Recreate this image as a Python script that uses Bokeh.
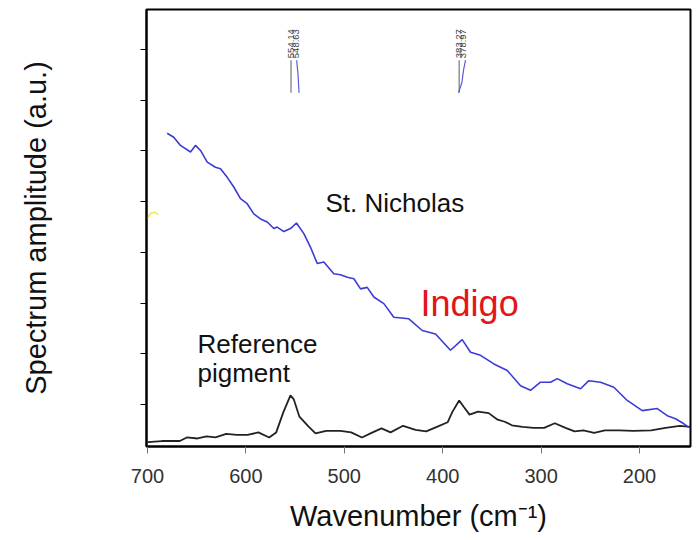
from bokeh.plotting import figure
from bokeh.models import Range1d, FixedTicker, Label
from bokeh.embed import file_html
from bokeh.resources import INLINE
import math

# St. Nicholas (blue) spectrum: wavenumber, amplitude
nich_x = [680.0, 673.3, 666.5, 656.3, 651.2, 646.1, 639.3, 631.0, 625.8, 619.0, 612.3, 605.5,
          598.7, 592.0, 585.2, 578.3, 571.6, 568.2, 561.5, 554.7, 548.6, 541.1, 534.3, 527.5,
          520.8, 510.7, 503.9, 497.0, 490.3, 483.5, 476.7, 470.0, 459.8, 449.7, 434.4, 420.8,
          407.3, 392.1, 380.2, 371.7, 361.6, 348.0, 334.4, 320.9, 310.8, 300.6, 290.4, 283.6,
          273.5, 259.9, 251.5, 239.6, 226.1, 212.5, 197.2, 182.0, 171.8, 163.4, 154.9, 149.9]
nich_y = [6.35, 6.27, 6.11, 5.98, 6.11, 6.01, 5.78, 5.68, 5.65, 5.48, 5.29, 5.06,
          4.96, 4.76, 4.66, 4.60, 4.47, 4.50, 4.41, 4.47, 4.58, 4.37, 4.10, 3.78,
          3.81, 3.58, 3.56, 3.51, 3.48, 3.28, 3.31, 3.12, 2.99, 2.72, 2.69, 2.46,
          2.39, 2.07, 2.28, 2.03, 1.97, 1.80, 1.67, 1.37, 1.28, 1.44, 1.44, 1.51,
          1.41, 1.31, 1.47, 1.44, 1.34, 1.08, 0.88, 0.92, 0.78, 0.72, 0.62, 0.55]

# Reference pigment (black) spectrum
ref_x = [699.9, 685.4, 667.2, 660.0, 649.1, 640.0, 630.9, 620.0, 609.1, 598.4, 587.3, 576.4,
         569.2, 561.9, 554.7, 551.3, 545.6, 536.5, 529.3, 518.4, 503.9, 493.0, 482.1, 471.2,
         462.2, 453.0, 440.3, 427.6, 416.8, 405.9, 395.0, 390.3, 383.3, 378.5, 372.7, 364.1,
         353.3, 344.2, 336.9, 329.7, 318.8, 307.8, 296.9, 286.1, 275.2, 266.0, 257.0, 246.1,
         235.2, 220.7, 206.2, 188.1, 173.6, 159.0, 148.2]
ref_y = [0.26, 0.28, 0.28, 0.35, 0.33, 0.37, 0.35, 0.42, 0.40, 0.40, 0.45, 0.35,
         0.45, 0.85, 1.18, 1.10, 0.76, 0.57, 0.43, 0.48, 0.48, 0.45, 0.35, 0.45,
         0.53, 0.45, 0.58, 0.50, 0.47, 0.56, 0.65, 0.85, 1.08, 0.95, 0.80, 0.86,
         0.83, 0.70, 0.66, 0.59, 0.56, 0.54, 0.54, 0.63, 0.54, 0.47, 0.49, 0.44,
         0.49, 0.49, 0.48, 0.49, 0.54, 0.58, 0.56]

# Peak markers
peak_labels = ["554.14", "548.63", "383.27", "378.97"]
peak_pos = [554.14, 548.63, 383.27, 378.97]
peak_colors = ["#777777", "#5a5ae0", "#777777", "#5a5ae0"]
peak_xs = [[554.14, 554.14], [546.0, 547.0, 548.4], [383.27, 383.27], [383.9, 380.5, 378.8, 376.8]]
peak_ys = [[7.15, 7.79], [7.15, 7.5, 7.79], [7.15, 7.79], [7.15, 7.35, 7.6, 7.79]]

# Small yellow trace near the left axis
yel_x = [700.0, 697.0, 692.9, 688.8]
yel_y = [4.67, 4.77, 4.79, 4.75]

x_ticks = [700, 600, 500, 400, 300, 200]
y_ticks = [1, 2, 3, 4, 5, 6, 7, 8]

FONT = "Liberation Sans"

p = figure(width=698, height=540, output_backend="svg", toolbar_location=None,
           x_range=Range1d(701, 148.2), y_range=Range1d(0.172, 8.79),
           min_border_left=146, min_border_right=8, min_border_top=9, min_border_bottom=94)

p.xgrid.visible = False
p.ygrid.visible = False
p.outline_line_color = "black"
p.outline_line_width = 2
p.background_fill_color = "white"
p.border_fill_color = "white"

p.xaxis.ticker = FixedTicker(ticks=x_ticks)
p.xaxis.minor_tick_line_color = None
p.xaxis.major_tick_in = 0
p.xaxis.major_tick_out = 7
p.xaxis.major_tick_line_color = "#777777"
p.xaxis.axis_line_width = 2
p.xaxis.major_label_text_font = FONT
p.xaxis.major_label_text_font_size = "20px"
p.xaxis.major_label_text_color = "#333333"
p.xaxis.major_label_standoff = 15
p.xaxis.axis_label = "Wavenumber (cm\u207b\u00b9)"
p.xaxis.axis_label_text_font = FONT
p.xaxis.axis_label_text_font_size = "29px"
p.xaxis.axis_label_text_font_style = "normal"
p.xaxis.axis_label_text_color = "#111111"
p.xaxis.axis_label_standoff = 14

p.yaxis.ticker = FixedTicker(ticks=y_ticks)
p.yaxis.minor_tick_line_color = None
p.yaxis.major_tick_in = 0
p.yaxis.major_tick_out = 6
p.yaxis.axis_line_width = 2
p.yaxis.major_label_overrides = {t: "" for t in y_ticks}
p.yaxis.major_label_text_font_size = "10px"
p.yaxis.major_label_standoff = 0
p.yaxis.axis_label = "Spectrum amplitude (a.u.)"
p.yaxis.axis_label_text_font = FONT
p.yaxis.axis_label_text_font_size = "29px"
p.yaxis.axis_label_text_font_style = "normal"
p.yaxis.axis_label_text_color = "#111111"
p.yaxis.axis_label_standoff = 89

p.line(yel_x, yel_y, line_color="#f2e64a", line_width=1.5)
p.line(ref_x, ref_y, line_color="#222222", line_width=1.8)
p.line(nich_x, nich_y, line_color="#3b3bd6", line_width=1.6)

p.multi_line(peak_xs, peak_ys, line_color=peak_colors, line_width=1.2)
p.text(x=peak_pos, y=[7.83] * 4, text=peak_labels, angle=math.pi / 2,
       text_align="left", text_baseline="middle", text_font_size="9.5px",
       text_color="#444444")

for txt, x, y, size, color in [("St. Nicholas", 519.1, 4.98, "26px", "#111111"),
                               ("Indigo", 422.5, 2.99, "36px", "#e3151a"),
                               ("Reference", 649.2, 2.20, "26px", "#111111"),
                               ("pigment", 649.2, 1.63, "26px", "#111111")]:
    p.add_layout(Label(x=x, y=y, text=txt, text_font=FONT, text_font_size=size,
                       text_color=color, text_align="left", text_baseline="alphabetic"))

open("out.html", "w").write(file_html(p, INLINE))
